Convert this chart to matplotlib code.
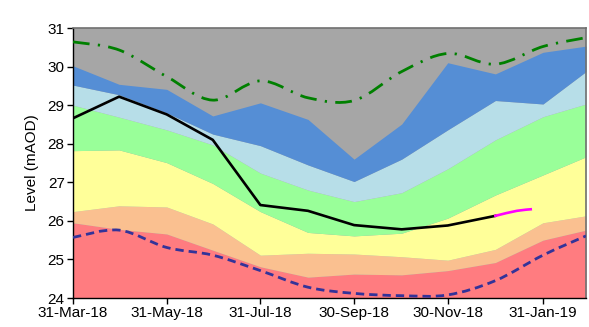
import datetime as dt
import numpy as np
import matplotlib
matplotlib.use("Agg")
import matplotlib.pyplot as plt
import matplotlib.dates as mdates
from matplotlib.path import Path
from matplotlib.patches import PathPatch

plt.rcParams['font.family'] = ['Liberation Sans', 'DejaVu Sans']

# month-end dates for the band / envelope series
months = ["2018-03-31", "2018-04-30", "2018-05-31", "2018-06-30", "2018-07-31",
          "2018-08-31", "2018-09-30", "2018-10-31", "2018-11-30", "2018-12-31",
          "2019-01-31", "2019-02-28"]

# upper edge of each band (mAOD), bottom band starts at the axis floor
band_red    = [25.95, 25.78, 25.66, 25.24, 24.81, 24.54, 24.62, 24.60, 24.71, 24.92, 25.50, 25.76]
band_orange = [26.24, 26.39, 26.36, 25.92, 25.11, 25.16, 25.14, 25.07, 24.98, 25.26, 25.95, 26.13]
band_yellow = [27.82, 27.84, 27.51, 26.97, 26.24, 25.70, 25.61, 25.68, 26.07, 26.67, 27.19, 27.66]
band_green  = [29.00, 28.69, 28.36, 27.97, 27.24, 26.80, 26.50, 26.73, 27.35, 28.10, 28.70, 29.03]
band_lblue  = [29.52, 29.27, 28.80, 28.25, 27.95, 27.45, 27.02, 27.60, 28.36, 29.12, 29.03, 29.87]
band_blue   = [30.02, 29.54, 29.41, 28.72, 29.06, 28.63, 27.60, 28.51, 30.10, 29.81, 30.37, 30.53]

max_level = [30.64, 30.43, 29.74, 29.13, 29.63, 29.19, 29.12, 29.87, 30.34, 30.06, 30.52, 30.75]
min_level = [25.57, 25.76, 25.31, 25.11, 24.71, 24.28, 24.12, 24.06, 24.08, 24.45, 25.11, 25.61]

# observed levels
obs_dates = months[:10]
obs_level = [28.66, 29.22, 28.76, 28.10, 26.41, 26.26, 25.89, 25.78, 25.88, 26.13]

# recent daily readings
recent_dates = ["2018-12-31", "2019-01-07", "2019-01-14", "2019-01-20", "2019-01-23"]
recent_level = [26.13, 26.20, 26.26, 26.29, 26.30]

tick_dates = ["2018-03-31", "2018-05-31", "2018-07-31", "2018-09-30", "2018-11-30", "2019-01-31"]
tick_labels = ["31-Mar-18", "31-May-18", "31-Jul-18", "30-Sep-18", "30-Nov-18", "31-Jan-19"]

floor, ceil = 24, 31

def to_num(ds):
    return mdates.date2num([dt.datetime.strptime(d, "%Y-%m-%d") for d in ds])

def smooth_path(x, y):
    # Catmull-Rom style smoothing drawn as cubic Bezier segments
    p = np.column_stack([x, y])
    n = len(p)
    verts = [p[0]]
    codes = [Path.MOVETO]
    for i in range(n - 1):
        p0 = p[i - 1] if i > 0 else p[i]
        p3 = p[i + 2] if i + 2 < n else p[i + 1]
        c1 = p[i] + (p[i + 1] - p0) / 6
        c2 = p[i + 1] - (p3 - p[i]) / 6
        verts += [c1, c2, p[i + 1]]
        codes += [Path.CURVE4] * 3
    return Path(verts, codes)

x = to_num(months)

fig = plt.figure(figsize=(5.89, 3.27), dpi=100)
ax = fig.add_axes([73 / 589, 29 / 327, 513 / 589, 270 / 327])

ax.set_facecolor("#A6A6A6")
layers = [
    ([floor] * len(x), band_red, "#FF7C80"),
    (band_red, band_orange, "#FAC090"),
    (band_orange, band_yellow, "#FFFF99"),
    (band_yellow, band_green, "#99FF99"),
    (band_green, band_lblue, "#B7DEE8"),
    (band_lblue, band_blue, "#558ED5"),
]
for lo, hi, c in layers:
    ax.fill_between(x, lo, hi, color=c, linewidth=0, zorder=1)

ax.add_patch(PathPatch(smooth_path(x, max_level), fill=False, edgecolor="#008000",
                       linewidth=2.0, linestyle=(0, (6, 3, 0.8, 3)), zorder=3))
ax.add_patch(PathPatch(smooth_path(x, min_level), fill=False, edgecolor="#333399",
                       linewidth=2.0, linestyle=(0, (3, 1.8)), zorder=3))

ax.plot(to_num(obs_dates), obs_level, color="black", linewidth=1.9, zorder=4)
ax.plot(to_num(recent_dates), recent_level, color="#FF00FF", linewidth=1.9, zorder=4)

ax.set_xlim(x[0], x[-1])
ax.set_ylim(floor, ceil)
ax.set_xticks(to_num(tick_dates))
ax.set_xticklabels(tick_labels)
ax.set_yticks(range(floor, ceil + 1))
ax.tick_params(axis="both", labelsize=11, length=4, width=1, direction="out", pad=2)
ax.set_ylabel("Level (mAOD)", fontsize=11, labelpad=6)

for s in ("left", "bottom"):
    ax.spines[s].set_color("black")
    ax.spines[s].set_linewidth(1)
for s in ("top", "right"):
    ax.spines[s].set_color("#707070")
    ax.spines[s].set_linewidth(1.2)

fig.savefig("out.png", dpi=100)
